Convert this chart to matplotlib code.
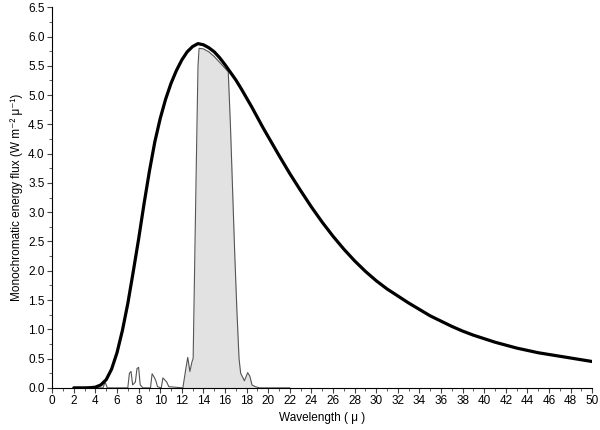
import matplotlib.pyplot as plt
from matplotlib.ticker import MultipleLocator
import numpy as np

plt.rcParams['font.family'] = ['Liberation Sans', 'DejaVu Sans']

# blackbody curve
bb_wl = [2, 2.5, 3, 3.5, 4, 4.5, 5, 5.5, 6, 6.5, 7, 7.5, 8, 8.5, 9, 9.5, 10, 10.5, 11, 11.5,
         12, 12.5, 13, 13.5, 14, 14.5, 15, 15.5, 16, 16.5, 17, 17.5, 18, 18.5, 19, 19.5,
         20, 21, 22, 23, 24, 25, 26, 27, 28, 29, 30, 31, 32, 33, 34, 35, 36, 37, 38, 39,
         40, 41, 42, 43, 44, 45, 46, 47, 48, 49, 50]
bb_flux = [0.0, 0.0, 0.0, 0.003, 0.012, 0.05, 0.14, 0.32, 0.6, 0.98, 1.44, 1.98, 2.54, 3.14,
           3.7, 4.2, 4.6, 4.93, 5.2, 5.42, 5.6, 5.74, 5.83, 5.88, 5.86, 5.81, 5.74, 5.64,
           5.52, 5.39, 5.26, 5.11, 4.95, 4.79, 4.62, 4.45, 4.29, 3.97, 3.66, 3.37, 3.09,
           2.83, 2.59, 2.37, 2.17, 1.99, 1.83, 1.69, 1.57, 1.45, 1.34, 1.23, 1.14, 1.05,
           0.97, 0.9, 0.84, 0.78, 0.73, 0.68, 0.64, 0.6, 0.57, 0.54, 0.51, 0.48, 0.45]

# observed spectrum
sp_wl = [2, 4.7, 4.9, 5.1, 7.0, 7.15, 7.3, 7.45, 7.7, 7.85, 8.0, 8.15, 8.4, 9.1, 9.25,
         9.45, 9.6, 9.75, 10.1, 10.25, 10.45, 10.6, 10.8, 12.1, 12.35, 12.55, 12.75,
         12.95, 13.05, 13.2, 13.35, 13.5, 13.6, 14, 14.5, 15, 15.5, 16, 16.3, 16.5, 16.7,
         16.9, 17.1, 17.3, 17.45, 17.8, 18.1, 18.3, 18.5, 18.8, 19.2, 22]
sp_flux = [0, 0, 0.1, 0, 0, 0.25, 0.28, 0.05, 0.1, 0.33, 0.35, 0.05, 0, 0, 0.24,
           0.18, 0.12, 0.02, 0, 0.17, 0.13, 0.1, 0.02, 0, 0.3, 0.52, 0.28,
           0.45, 0.5, 2.2, 3.9, 5.5, 5.8, 5.79, 5.74, 5.66, 5.56, 5.46, 5.4, 4.5, 3.4,
           2.3, 1.33, 0.5, 0.25, 0.12, 0.26, 0.2, 0.05, 0.02, 0, 0]

fig = plt.figure(figsize=(6, 4.3), dpi=100)
ax = fig.add_axes([0.087, 0.098, 0.9, 0.885])

w = np.array(sp_wl)
f = np.array(sp_flux)
ax.fill_between(w, 0, f, where=(w >= 12.1) & (w <= 19.2), color='#e2e2e2', lw=0)
ax.plot(w, f, color='#555555', lw=0.8)
ax.plot(bb_wl, bb_flux, color='black', lw=2.3, solid_capstyle='round', solid_joinstyle='round')

ax.set_xlim(0, 50)
ax.set_ylim(0, 6.5)
ax.xaxis.set_major_locator(MultipleLocator(2))
ax.xaxis.set_minor_locator(MultipleLocator(1))
ax.yaxis.set_major_locator(MultipleLocator(0.5))
ax.yaxis.set_minor_locator(MultipleLocator(0.25))
ax.yaxis.set_major_formatter(plt.FormatStrFormatter('%.1f'))
ax.spines['top'].set_visible(False)
ax.spines['right'].set_visible(False)
ax.tick_params(which='both', direction='out', color='#444444', labelsize=8.5, pad=2)
ax.tick_params(which='major', length=3.5)
ax.tick_params(which='minor', length=2)

ax.set_xlabel('Wavelength ( μ )', fontsize=8.5, labelpad=3)
ax.set_ylabel('Monochromatic energy flux (W m⁻² μ⁻¹)', fontsize=8.5, labelpad=4)

plt.savefig('out.png')
